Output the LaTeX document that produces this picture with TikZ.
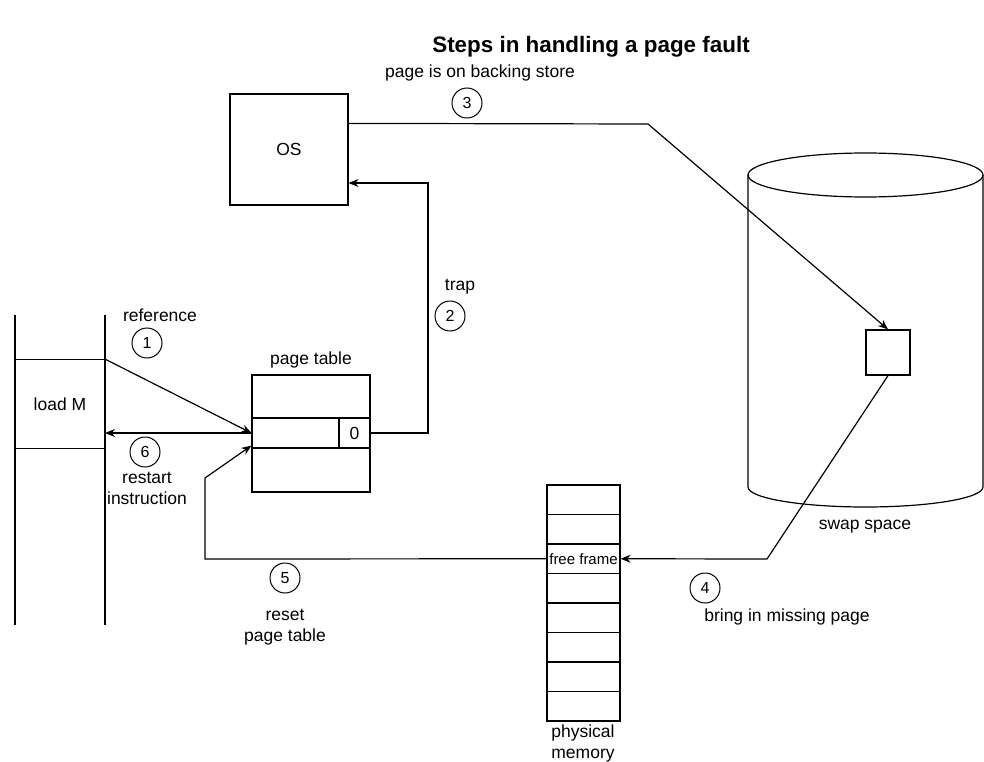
\documentclass[tikz,border=0pt]{standalone}
\usepackage{fontspec}
\setmainfont{Liberation Sans}
\usetikzlibrary{arrows.meta}
\begin{document}
\begin{tikzpicture}[x=1pt,y=-1pt,line width=1.2pt,
  lbl/.style={font=\fontsize{17.5}{21}\selectfont, inner sep=0pt, align=center},
  box/.style={draw, rectangle, inner sep=0pt, font=\fontsize{17.5}{21}\selectfont},
  num/.style={draw, circle, minimum size=30pt, inner sep=0pt, line width=1pt, font=\fontsize{16}{19}\selectfont},
  arr/.style={-{Stealth[length=10pt,width=8pt]}}]
\useasboundingbox (0,0) rectangle (984,762);

% title
\node[font=\fontsize{22.4}{26}\selectfont\bfseries, inner sep=0pt] (title) at (591,47) {Steps in handling a page fault};

% OS
\node[box, minimum width=118pt, minimum height=111pt] (os) at (289,149.5) {OS};

% cylinder (swap space)
\draw (748,175) -- (748,487) arc[start angle=180,end angle=0,x radius=117.5,y radius=20] -- (983,175);
\draw (865.5,175) ellipse [x radius=117.5, y radius=22];
\node[box, minimum width=44pt, minimum height=45pt] (page) at (888,352.5) {};
\node[lbl] (swaplbl) at (865,527) {swap space};

% program column
\node[lbl, minimum width=90pt, minimum height=88pt] (loadm) at (60,404) {load M};
\draw (15,315) -- (15,625);
\draw (105,315) -- (105,625);
\draw (loadm.north west) -- (loadm.north east);
\draw (loadm.south west) -- (loadm.south east);
\coordinate (prog) at (loadm.north east);
\coordinate (restartend) at (105,433);

% page table
\node[lbl] (ptlbl) at (311,360) {page table};
\node[box, minimum width=118pt, minimum height=43pt] (ptop) at (311,396.5) {};
\node[box, minimum width=87pt, minimum height=30pt] (pmid) at (295.5,433) {};
\node[box, minimum width=31pt, minimum height=30pt] (pzero) at (354.5,433) {0};
\node[box, minimum width=118pt, minimum height=44pt] (pbot) at (311,470) {};

% physical memory
\foreach \i/\t in {1/,2/,3/{\fontsize{15}{18}\selectfont free frame},4/,5/,6/,7/,8/} {
  \node[box, minimum width=73pt, minimum height=29.5pt] (m\i) at (583.5,{485+14.75+29.5*(\i-1)}) {\t};
}
\node[lbl] (pmlbl) at (583,743) {physical\\memory};

% step 1
\node[lbl] (l1) at (160,315) {reference};
\node[num] (c1) at (147,343) {1};
\draw[arr] (prog) -- (pmid.west);

% step 2
\node[lbl] (l2) at (460,287) {trap};
\node[num] (c2) at (450,316) {2};
\coordinate (t1) at (428,183);
\draw[arr] (pzero.east) -| (t1) -- (t1 -| os.east);

% step 3
\node[lbl] (l3) at (480,73) {page is on backing store};
\node[num] (c3) at (467,103) {3};
\coordinate (t3) at (648,124);
\draw[arr] ([yshift=-30pt]os.north east) -- (t3) -- (page.north);

% step 4
\node[num] (c4) at (705,588) {4};
\node[lbl] (l4) at (787,617) {bring in missing page};
\coordinate (t4) at (767,559);
\draw[arr] (page.south) -- (t4) -- (m3.east);

% step 5
\node[num] (c5) at (285,578) {5};
\node[lbl] (l5) at (285,627) {reset\\page table};
\coordinate (t5a) at (205,559);
\coordinate (t5b) at (205,478);
\draw[arr] (m3.west) -- (t5a) -- (t5b) -- ([yshift=3pt]pmid.south west);

% step 6
\node[num] (c6) at (145,452) {6};
\node[lbl] (l6) at (147,488) {restart\\instruction};
\draw[arr] (pmid.west) -- (restartend);
\end{tikzpicture}
\end{document}
